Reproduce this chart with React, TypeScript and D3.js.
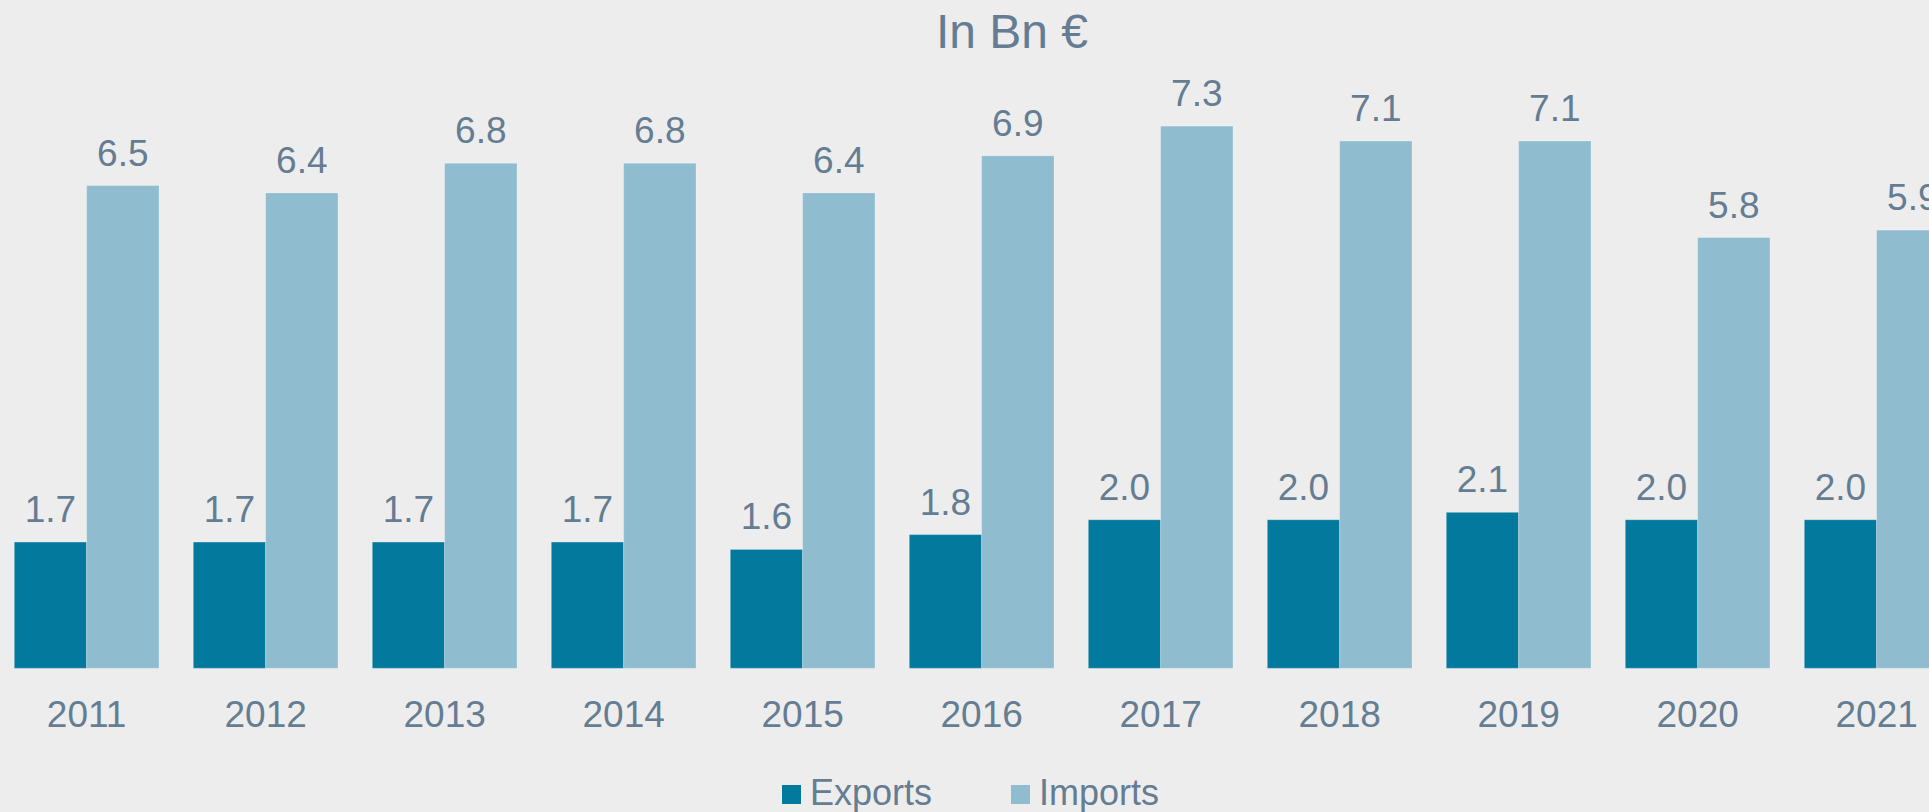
import React from 'react';
import * as d3 from 'd3';

const YEARS = ['2011', '2012', '2013', '2014', '2015', '2016', '2017', '2018', '2019', '2020', '2021'];
const EXPORTS = [1.7, 1.7, 1.7, 1.7, 1.6, 1.8, 2.0, 2.0, 2.1, 2.0, 2.0];
const IMPORTS = [6.5, 6.4, 6.8, 6.8, 6.4, 6.9, 7.3, 7.1, 7.1, 5.8, 5.9];
const SERIES = ['Exports', 'Imports'];

const WIDTH = 1929;
const HEIGHT = 812;
const BASELINE = 668.3;
const FONT = '"Liberation Sans", Arial, sans-serif';
const TEXT_COLOR = '#657d92';
const COLORS = ['#03799e', '#8fbccf'];
const BG = '#ededed';

export default function App() {
  const gap = 0.1917;
  const x = d3.scaleBand<string>()
    .domain(YEARS)
    .range([-2.85, -2.85 + 179 * YEARS.length])
    .paddingInner(gap)
    .paddingOuter(gap / 2);

  const inner = d3.scaleBand<string>()
    .domain(SERIES)
    .range([0, x.bandwidth()]);

  const y = d3.scaleLinear()
    .domain([0, 8])
    .range([BASELINE, BASELINE - 8 * 74.27]);

  const rows = YEARS.map((year, i) => ({ year, values: [EXPORTS[i], IMPORTS[i]] }));

  return (
    <div style={{ position: 'fixed', left: 0, top: 0, width: WIDTH, height: HEIGHT, background: BG }}>
      <svg width={WIDTH} height={HEIGHT} style={{ display: 'block' }} fontFamily={FONT}>
        <rect width={WIDTH} height={HEIGHT} fill={BG} />
        <text x={1012} y={48} textAnchor="middle" fontSize={48} fill={TEXT_COLOR}>In Bn €</text>

        {rows.map((row) => (
          <g key={row.year} transform={`translate(${x(row.year)},0)`}>
            {row.values.map((v, j) => {
              const bx = inner(SERIES[j]) as number;
              const bw = inner.bandwidth();
              return (
                <g key={SERIES[j]}>
                  <rect
                    x={bx}
                    y={y(v)}
                    width={bw}
                    height={y(0) - y(v)}
                    fill={COLORS[j]}
                    stroke="#ffffff"
                    strokeOpacity={0.25}
                    strokeWidth={1}
                  />
                  <text
                    x={bx + bw / 2}
                    y={y(v) - 20}
                    textAnchor="middle"
                    fontSize={37}
                    fill={TEXT_COLOR}
                  >
                    {v.toFixed(1)}
                  </text>
                </g>
              );
            })}
            <text
              x={x.bandwidth() / 2}
              y={727}
              textAnchor="middle"
              fontSize={37}
              fill={TEXT_COLOR}
            >
              {row.year}
            </text>
          </g>
        ))}

        {/* legend */}
        <rect x={782} y={785} width={19} height={19} fill={COLORS[0]} />
        <text x={810} y={805} fontSize={36} fill={TEXT_COLOR}>{SERIES[0]}</text>
        <rect x={1011} y={785} width={19} height={19} fill={COLORS[1]} />
        <text x={1039} y={805} fontSize={36} fill={TEXT_COLOR}>{SERIES[1]}</text>
      </svg>
    </div>
  );
}
